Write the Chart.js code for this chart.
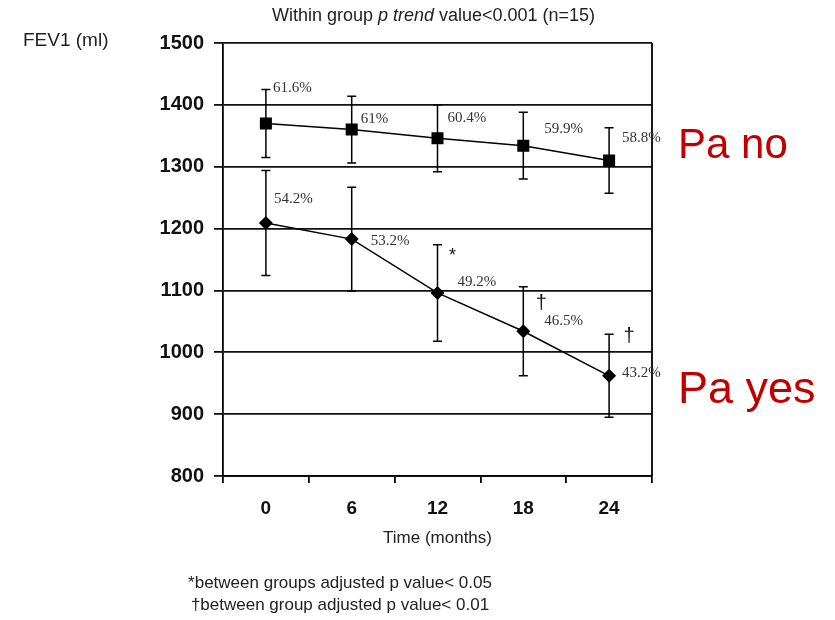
<!DOCTYPE html>
<html>
<head>
<meta charset="utf-8">
<script src="https://cdn.jsdelivr.net/npm/chart.js@4/dist/chart.umd.min.js"></script>
<style>
  html, body { margin: 0; padding: 0; background: #fff; }
  #wrap { width: 835px; height: 620px; }
</style>
</head>
<body>
<div id="wrap"><canvas id="fevChart" width="835" height="620"></canvas></div>
<script>
// data
const months = ['0', '6', '12', '18', '24'];
const paNoMean = [1370, 1360, 1346, 1334, 1310];
const paNoErr = [55, 54, 54, 54, 53];
const paYesMean = [1209, 1183, 1096, 1034, 962];
const paYesErr = [85, 84, 78, 72, 67];
const paNoPct = ['61.6%', '61%', '60.4%', '59.9%', '58.8%'];
const paYesPct = ['54.2%', '53.2%', '49.2%', '46.5%', '43.2%'];
const sigMarks = ['', '', '*', '\u2020', '\u2020'];
const yTicks = [800, 900, 1000, 1100, 1200, 1300, 1400, 1500];

// where the small labels sit relative to their point (dx, dy)
const paNoPctOffset = [[7, -35], [9, -11], [10, -20], [21, -17], [13, -22]];
const paYesPctOffset = [[8, -24], [19, 2], [20, -11], [21, -10], [13, -3]];
const sigOffset = [[0, 0], [0, 0], [15, -37], [18, -28], [20, -39]];

const errSets = [paNoErr, paYesErr];
const pctSets = [paNoPct, paYesPct];
const pctOffsets = [paNoPctOffset, paYesPctOffset];

// error bars drawn under the markers
const errorBars = {
    id: 'errorBars',
    beforeDatasetsDraw(chart) {
        const ctx = chart.ctx;
        const y = chart.scales.y;
        ctx.save();
        ctx.strokeStyle = '#000';
        ctx.lineWidth = 1.5;
        chart.data.datasets.forEach((ds, i) => {
            const meta = chart.getDatasetMeta(i);
            meta.data.forEach((pt, j) => {
                const top = y.getPixelForValue(ds.data[j] + errSets[i][j]);
                const bot = y.getPixelForValue(ds.data[j] - errSets[i][j]);
                ctx.beginPath();
                ctx.moveTo(pt.x, top); ctx.lineTo(pt.x, bot);
                ctx.moveTo(pt.x - 4.5, top); ctx.lineTo(pt.x + 4.5, top);
                ctx.moveTo(pt.x - 4.5, bot); ctx.lineTo(pt.x + 4.5, bot);
                ctx.stroke();
            });
        });
        ctx.restore();
    }
};

// texts: title, axis label, % labels, markers, group names, footnotes
const annotations = {
    id: 'annotations',
    afterDraw(chart) {
        const ctx = chart.ctx;
        const area = chart.chartArea;
        ctx.save();

        // right border of the box
        ctx.strokeStyle = '#000';
        ctx.lineWidth = 1.8;
        ctx.beginPath();
        ctx.moveTo(area.right, area.top);
        ctx.lineTo(area.right, area.bottom);
        ctx.stroke();

        // percentages
        ctx.fillStyle = '#333';
        ctx.font = '15px "Liberation Serif"';
        ctx.textAlign = 'left';
        ctx.textBaseline = 'middle';
        chart.data.datasets.forEach((ds, i) => {
            chart.getDatasetMeta(i).data.forEach((pt, j) => {
                const off = pctOffsets[i][j];
                ctx.fillText(pctSets[i][j], pt.x + off[0], pt.y + off[1]);
            });
        });

        // significance marks on the Pa yes series
        ctx.fillStyle = '#111';
        chart.getDatasetMeta(1).data.forEach((pt, j) => {
            if (!sigMarks[j]) return;
            ctx.font = sigMarks[j] === '*' ? '18px "Liberation Sans"' : '20px "Liberation Sans"';
            ctx.textAlign = 'center';
            ctx.fillText(sigMarks[j], pt.x + sigOffset[j][0], pt.y + sigOffset[j][1]);
        });

        // title with italic part
        ctx.fillStyle = '#222';
        ctx.textBaseline = 'alphabetic';
        ctx.textAlign = 'left';
        const parts = [
            ['Within group ', '18px "Liberation Sans"'],
            ['p trend', 'italic 18px "Liberation Sans"'],
            [' value<0.001 (n=15)', '18px "Liberation Sans"']
        ];
        let total = 0;
        parts.forEach(p => { ctx.font = p[1]; total += ctx.measureText(p[0]).width; });
        let tx = (area.left + area.right) / 2 - 4 - total / 2;
        parts.forEach(p => {
            ctx.font = p[1];
            ctx.fillText(p[0], tx, 21);
            tx += ctx.measureText(p[0]).width;
        });

        // y axis label
        ctx.font = '19px "Liberation Sans"';
        ctx.fillText('FEV1 (ml)', 23, 46);

        // group names
        ctx.fillStyle = '#c00000';
        ctx.font = '42px "Liberation Sans"';
        ctx.fillText('Pa no', area.right + 26, 158);
        ctx.font = '45px "Liberation Sans"';
        ctx.fillText('Pa yes', area.right + 26, 403);

        // footnotes
        ctx.fillStyle = '#222';
        ctx.font = '17px "Liberation Sans"';
        ctx.textAlign = 'center';
        ctx.fillText('*between groups adjusted p value< 0.05', 340, 588);
        ctx.fillText('\u2020between group adjusted p value< 0.01', 340, 610);

        ctx.restore();
    }
};

const ctxFev = document.getElementById('fevChart').getContext('2d');

new Chart(ctxFev, {
    type: 'line',
    data: {
        labels: months,
        datasets: [{
            label: 'Pa no',
            data: paNoMean,
            borderColor: '#000',
            borderWidth: 1.5,
            pointStyle: 'rect',
            pointRadius: 8.5,
            pointBackgroundColor: '#000',
            pointBorderWidth: 0,
            tension: 0
        }, {
            label: 'Pa yes',
            data: paYesMean,
            borderColor: '#000',
            borderWidth: 1.5,
            pointStyle: 'rectRot',
            pointRadius: 7,
            pointBackgroundColor: '#000',
            pointBorderWidth: 0,
            tension: 0
        }]
    },
    options: {
        responsive: false,
        animation: false,
        layout: { padding: { left: 0, right: 183, top: 43, bottom: 64 } },
        plugins: {
            legend: { display: false },
            title: { display: false },
            tooltip: { enabled: false }
        },
        scales: {
            x: {
                offset: true,
                afterFit: (s) => { s.height = 80; },
                grid: {
                    offset: true,
                    drawOnChartArea: false,
                    color: '#000',
                    lineWidth: 1.8,
                    tickLength: 7
                },
                border: { color: '#000', width: 1.8 },
                ticks: {
                    color: '#111',
                    padding: 14,
                    font: { family: 'Liberation Sans', size: 19, weight: 'bold' }
                },
                title: {
                    display: true,
                    text: 'Time (months)',
                    color: '#222',
                    font: { family: 'Liberation Sans', size: 17 },
                    padding: { top: 4, bottom: 7 }
                }
            },
            y: {
                min: yTicks[0],
                max: yTicks[yTicks.length - 1],
                afterFit: (s) => { s.width = 223; },
                afterBuildTicks: (s) => { s.ticks = yTicks.map(v => ({ value: v })); },
                grid: { color: '#111', lineWidth: 1.8, tickLength: 9 },
                border: { color: '#000', width: 1.8 },
                ticks: {
                    color: '#111',
                    padding: 10,
                    font: { family: 'Liberation Sans', size: 20, weight: 'bold' },
                    callback: (v) => String(v)
                }
            }
        }
    },
    plugins: [errorBars, annotations]
});
</script>
</body>
</html>
